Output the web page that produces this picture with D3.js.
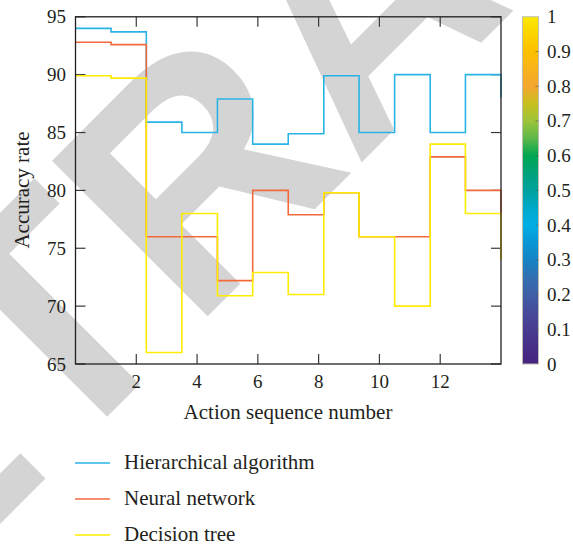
<!DOCTYPE html>
<html>
<head>
<meta charset="utf-8">
<script src="https://cdn.jsdelivr.net/npm/d3@7"></script>
<style>
  body { margin: 0; background: #fff; }
  svg text { font-family: "Liberation Serif", "DejaVu Serif", serif; fill: #231f20; }
</style>
</head>
<body>
<div id="chart"></div>
<script>
// step edges along the x axis (12 steps, last point only closes the stair)
var stepX = [0, 1.17, 2.33, 3.5, 4.67, 5.83, 7, 8.17, 9.33, 10.5, 11.67, 12.83, 14];

var hierarchical = [94.0, 93.7, 85.9, 85.0, 87.9, 84.0, 84.9, 89.9, 85.0, 90.0, 85.0, 90.0, 88.0];
var neural       = [92.8, 92.6, 76.0, 76.0, 72.2, 80.0, 77.9, 79.8, 76.0, 76.0, 82.9, 80.0, 78.0];
var decision     = [89.9, 89.7, 66.0, 78.0, 70.9, 72.9, 71.0, 79.8, 76.0, 70.0, 84.0, 78.0, 74.0];

var seriesNames  = ["Hierarchical algorithm", "Neural network", "Decision tree"];
var seriesColors = ["#2ab4e6", "#f26a3c", "#ffec00"];

var xTicks = [2, 4, 6, 8, 10, 12];
var yTicks = [65, 70, 75, 80, 85, 90, 95];
var cbTicks = [0, 0.1, 0.2, 0.3, 0.4, 0.5, 0.6, 0.7, 0.8, 0.9, 1];
var cbStops = [
  [0, "#45237e"], [0.05, "#472e86"], [0.1, "#483b90"], [0.15, "#464c9a"], [0.2, "#3f5fa6"],
  [0.25, "#3270b2"], [0.3, "#1584c4"], [0.35, "#0a96d6"], [0.4, "#00aee6"], [0.45, "#00a8c8"],
  [0.5, "#00a29e"], [0.55, "#00a27a"], [0.6, "#00a651"], [0.65, "#5db84a"], [0.7, "#9cc43a"],
  [0.75, "#c8c020"], [0.8, "#f4a62e"], [0.85, "#f8b31a"], [0.9, "#fcc000"], [1, "#fde800"]
];

var width = 573, height = 546;
var svg = d3.select("#chart").append("svg")
  .attr("width", width).attr("height", height);

// watermark behind everything
svg.append("text")
  .attr("transform", "translate(-260,784) rotate(-45)")
  .style("font-family", "'Liberation Sans', Arial, sans-serif")
  .style("font-weight", "bold")
  .style("font-size", "320px")
  .style("fill", "#d4d4d4")
  .text("RETRACTED");

var pLeft = 75.5, pRight = 501, pTop = 16.8, pBottom = 364;

var x = d3.scaleLinear().domain([0, 14]).range([pLeft, pRight]);
var y = d3.scaleLinear().domain([65, 95]).range([pBottom, pTop]);

// ticks inside the box
var tickLen = 10;
var g = svg.append("g");
g.selectAll(".xt").data(xTicks).enter().append("line")
  .attr("x1", d => x(d)).attr("x2", d => x(d))
  .attr("y1", pBottom).attr("y2", pBottom - tickLen)
  .attr("stroke", "#3a3a3a").attr("stroke-width", 1.2);
g.selectAll(".xt2").data(xTicks).enter().append("line")
  .attr("x1", d => x(d)).attr("x2", d => x(d))
  .attr("y1", pTop).attr("y2", pTop + tickLen)
  .attr("stroke", "#3a3a3a").attr("stroke-width", 1.2);
g.selectAll(".yt").data(yTicks).enter().append("line")
  .attr("x1", pLeft).attr("x2", pLeft + tickLen)
  .attr("y1", d => y(d)).attr("y2", d => y(d))
  .attr("stroke", "#3a3a3a").attr("stroke-width", 1.2);
g.selectAll(".yt2").data(yTicks).enter().append("line")
  .attr("x1", pRight).attr("x2", pRight - tickLen)
  .attr("y1", d => y(d)).attr("y2", d => y(d))
  .attr("stroke", "#3a3a3a").attr("stroke-width", 1.2);

// tick labels
g.selectAll(".xl").data(xTicks).enter().append("text")
  .attr("x", d => x(d)).attr("y", 388)
  .attr("text-anchor", "middle").style("font-size", "19px")
  .text(d => d);
g.selectAll(".yl").data(yTicks).enter().append("text")
  .attr("x", 66).attr("y", d => y(d) + 6.5)
  .attr("text-anchor", "end").style("font-size", "19px")
  .text(d => d);

// step lines
var line = d3.line()
  .x((d, i) => x(stepX[i]))
  .y(d => y(d))
  .curve(d3.curveStepAfter);

[hierarchical, neural, decision].forEach(function(vals, i){
  svg.append("path")
    .datum(vals)
    .attr("d", line)
    .attr("fill", "none")
    .attr("stroke", seriesColors[i])
    .attr("stroke-width", 1.6);
});

// frame
svg.append("rect")
  .attr("x", pLeft).attr("y", pTop)
  .attr("width", pRight - pLeft).attr("height", pBottom - pTop)
  .attr("fill", "none").attr("stroke", "#231f20").attr("stroke-width", 1.3);

// axis titles
svg.append("text")
  .attr("x", 288).attr("y", 419)
  .attr("text-anchor", "middle").style("font-size", "21px")
  .text("Action sequence number");
svg.append("text")
  .attr("transform", "translate(29,190) rotate(-90)")
  .attr("text-anchor", "middle").style("font-size", "21px")
  .text("Accuracy rate");

// colorbar
var cbX = 522.5, cbW = 16;
var cb = d3.scaleLinear().domain([0, 1]).range([pBottom, pTop]);
var grad = svg.append("defs").append("linearGradient")
  .attr("id", "parula").attr("x1", 0).attr("y1", 1).attr("x2", 0).attr("y2", 0);
grad.selectAll("stop").data(cbStops).enter().append("stop")
  .attr("offset", d => d[0]).attr("stop-color", d => d[1]);
svg.append("rect")
  .attr("x", cbX).attr("y", pTop).attr("width", cbW).attr("height", pBottom - pTop)
  .attr("fill", "url(#parula)").attr("stroke", "#bdbdb0").attr("stroke-width", 1);
svg.selectAll(".cbt").data(cbTicks.slice(1, -1)).enter().append("line")
  .attr("x1", cbX + cbW - 3).attr("x2", cbX + cbW)
  .attr("y1", d => cb(d)).attr("y2", d => cb(d))
  .attr("stroke", "#555").attr("stroke-opacity", 0.6);
svg.selectAll(".cbl").data(cbTicks).enter().append("text")
  .attr("x", 547).attr("y", d => cb(d) + 6.5)
  .style("font-size", "19px")
  .text(d => d);

// legend
var legendY = [463, 499, 535];
seriesNames.forEach(function(name, i){
  svg.append("line")
    .attr("x1", 75).attr("x2", 110)
    .attr("y1", legendY[i]).attr("y2", legendY[i])
    .attr("stroke", seriesColors[i]).attr("stroke-width", 1.6);
  svg.append("text")
    .attr("x", 124).attr("y", legendY[i] + 6)
    .style("font-size", "21px")
    .text(name);
});
</script>
</body>
</html>
